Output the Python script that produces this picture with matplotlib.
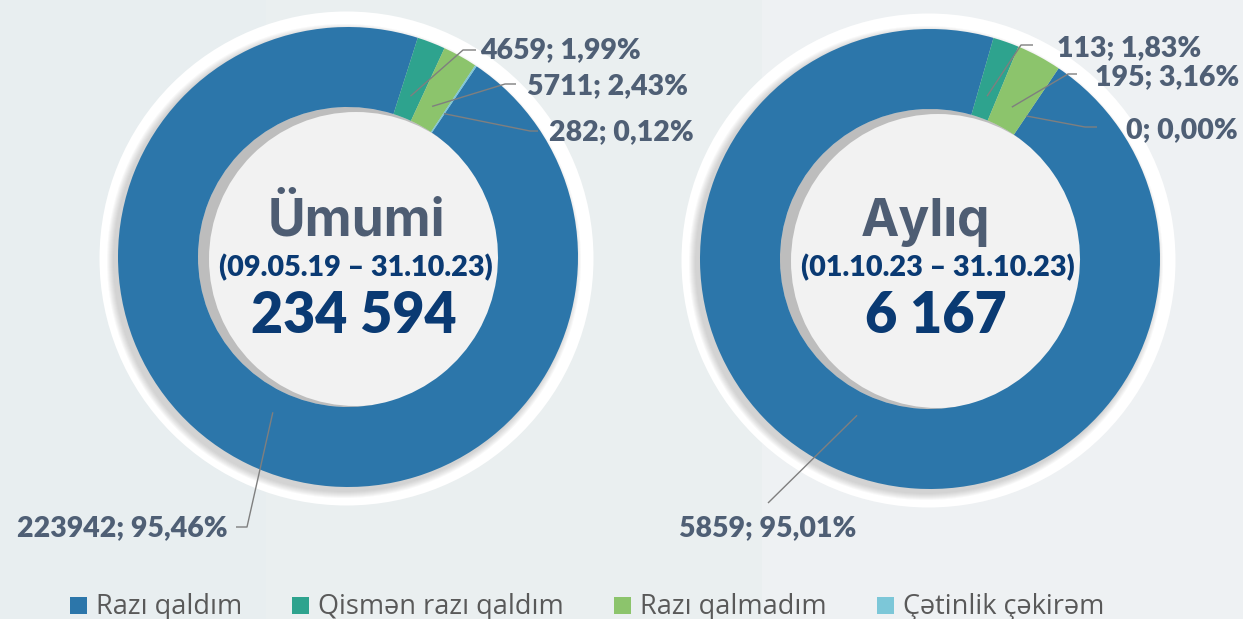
import matplotlib.pyplot as plt
from matplotlib.patches import Circle, Rectangle
import numpy as np

# data
categories = ['Razı qaldım', 'Qismən razı qaldım', 'Razı qalmadım', 'Çətinlik çəkirəm']
colors = ['#2C76AA', '#2EA38E', '#8CC46C', '#7CC7D8']

total_values = [223942, 4659, 5711, 282]
month_values = [5859, 113, 195, 0]

titles = ['Ümumi', 'Aylıq']
periods = ['(09.05.19 – 31.10.23)', '(01.10.23 – 31.10.23)']

W, H = 1243, 619


def Y(y):
    # image pixel row -> axes y
    return H - y


fig = plt.figure(figsize=(W / 100, H / 100), dpi=100)
fig.patch.set_facecolor('#EBF0F1')
ax = fig.add_axes([0, 0, 1, 1])
ax.set_facecolor('#EBF0F1')

# soft background panels
ax.add_patch(Rectangle((0, 0), 266, H, fc='#E8EEF0', ec='none', zorder=0))
ax.add_patch(Rectangle((266, 0), 496, H, fc='#EAEFF0', ec='none', zorder=0))
ax.add_patch(Rectangle((762, 0), W - 762, H, fc='#EEF1F3', ec='none', zorder=0))

R = 230
RING = 80
label_font = dict(family=['Lato', 'DejaVu Sans'], fontweight='heavy', color='#4F5F75', fontsize=20.5)

donuts = [
    dict(values=total_values, center=(348, Y(257)), title=titles[0], period=periods[0], title_dx=0,
         # (elbow, line end, text pos, ha) per slice, image coords
         labels=[((247, 527), (236, 527), (228, 528), 'right'),
                 ((463, 50), (476, 50), (480, 50), 'left'),
                 ((505, 84), (516, 84), (527, 86), 'left'),
                 ((530, 131), (538, 131), (549, 132), 'left')]),
    dict(values=month_values, center=(930, Y(259)), title=titles[1], period=periods[1], title_dx=-12,
         labels=[((768, 503), (768, 503), (768, 528), 'center'),
                 ((1021, 45), (1033, 45), (1057, 48), 'left'),
                 ((1068, 74), (1077, 74), (1095, 77), 'left'),
                 ((1085, 127), (1097, 127), (1126, 130), 'left')]),
]

for d in donuts:
    cx, cy = d['center']
    vals = d['values']
    tot = sum(vals)

    # white halo ring + soft shadow
    ax.add_patch(Circle((cx - 1.5, cy - 1.5), 247, fc='white', ec='none', zorder=1))
    for i in range(7):
        ax.add_patch(Circle((cx - 4, cy - 4), R + 1 + i, fc='#7a7a7a', ec='none',
                            alpha=0.05, zorder=1.1))
    # hole with inner shadow
    ax.add_patch(Circle((cx, cy), R - RING, fc='#BDBDBD', ec='none', zorder=1.2))
    ax.add_patch(Circle((cx + 8, cy - 2), R - RING - 3, fc='#F2F2F2', ec='none', zorder=1.3))

    wedges, _ = ax.pie(vals, colors=colors, startangle=56, counterclock=False,
                       radius=R, center=(cx, cy),
                       wedgeprops=dict(width=RING, edgecolor='none', zorder=2))

    for w, v, (elbow, end, tpos, ha) in zip(wedges, vals, d['labels']):
        mid = np.deg2rad((w.theta1 + w.theta2) / 2)
        sx, sy = cx + 0.75 * R * np.cos(mid), cy + 0.75 * R * np.sin(mid)
        ax.plot([sx, elbow[0], end[0]], [sy, Y(elbow[1]), Y(end[1])],
                color='#7F7F7F', lw=1, zorder=3, solid_capstyle='butt')
        pct = f'{v / tot * 100:.2f}'.replace('.', ',')
        ax.text(tpos[0], Y(tpos[1]), f'{v}; {pct}%', ha=ha, va='center', zorder=4, **label_font)

    tx = cx + 8
    ax.text(tx + d['title_dx'], Y(236), d['title'], ha='center', va='baseline', fontsize=37,
            family=['Inter', 'DejaVu Sans'], fontweight='bold', color='#4E5D73', zorder=4)
    ax.text(tx, Y(268), d['period'], ha='center', va='center', fontsize=20.7,
            family=['Lato', 'DejaVu Sans'], fontweight='heavy', color='#0A3A73', zorder=4)
    ax.text(tx - 2, Y(316), f'{tot:,}'.replace(',', ' '), ha='center', va='center', fontsize=40,
            family=['Lato', 'DejaVu Sans'], fontweight='heavy', color='#0A3A73', zorder=4)

# legend
leg_x = [70, 292, 614, 877]
for x, c, name in zip(leg_x, colors, categories):
    ax.add_patch(Rectangle((x, Y(614)), 17, 17, fc=c, ec='none', zorder=4))
    ax.text(x + 26, Y(614), name, ha='left', va='baseline', fontsize=19.5,
            family=['Open Sans', 'DejaVu Sans'], color='#595959', zorder=4)

ax.set_xlim(0, W)
ax.set_ylim(0, H)
ax.set_aspect('equal')
ax.axis('off')

fig.savefig('out.png', dpi=100, facecolor=fig.get_facecolor())
